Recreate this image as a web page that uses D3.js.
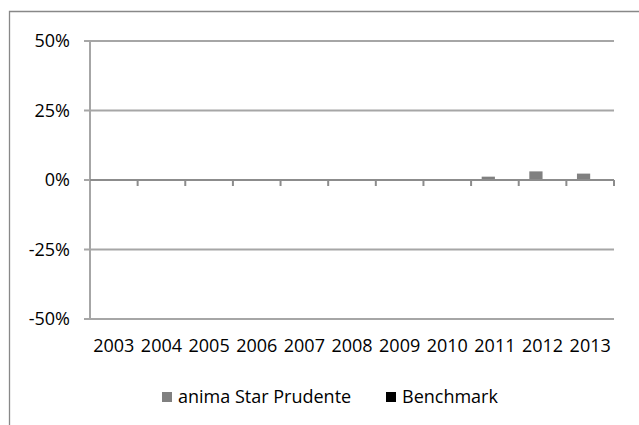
<!DOCTYPE html>
<html>
<head>
<meta charset="utf-8">
<script src="https://cdn.jsdelivr.net/npm/d3@7"></script>
<style>
  body { margin: 0; background: #fff; }
  text { font-family: "Open Sans", sans-serif; fill: #000; }
</style>
</head>
<body>
<div id="chart"></div>
<script>
// chart data
var years = ["2003","2004","2005","2006","2007","2008","2009","2010","2011","2012","2013"];
var fund = [null,null,null,null,null,null,null,null,1.2,3.1,2.3];
var bench = [null,null,null,null,null,null,null,null,null,null,null];
var seriesNames = ["anima Star Prudente","Benchmark"];
var seriesColors = ["#808080","#000000"];
var yTicks = [-50,-25,0,25,50];

var W = 639, H = 425;
var plotL = 90, plotR = 614, plotT = 41, plotB = 319;

var svg = d3.select("#chart").append("svg")
	.attr("width", W)
	.attr("height", H);

// outer frame (left + top visible)
svg.append("path")
	.attr("d", "M9.5," + (H + 2) + "V11.5H" + (W + 2))
	.attr("fill", "none")
	.attr("stroke", "#888")
	.attr("stroke-width", 1.3);

var x = d3.scaleBand().domain(years).range([plotL, plotR]);
var y = d3.scaleLinear().domain([-50, 50]).range([plotB, plotT]);

// gridlines
svg.append("g").selectAll("line")
	.data(yTicks)
	.enter().append("line")
	.attr("x1", plotL - 6).attr("x2", plotR)
	.attr("y1", function(d){ return y(d); })
	.attr("y2", function(d){ return y(d); })
	.attr("stroke", "#a6a6a6")
	.attr("stroke-width", 2);

// y axis line
svg.append("line")
	.attr("x1", plotL).attr("x2", plotL)
	.attr("y1", plotT).attr("y2", plotB)
	.attr("stroke", "#a6a6a6")
	.attr("stroke-width", 2);

// y labels
svg.append("g").selectAll("text")
	.data(yTicks)
	.enter().append("text")
	.attr("x", plotL - 20)
	.attr("y", function(d){ return y(d); })
	.attr("dy", "0.35em")
	.attr("text-anchor", "end")
	.style("font-size", "18px")
	.text(function(d){ return d + "%"; });

// bars
var inner = d3.scaleBand().domain([0, 1]).range([0, x.bandwidth()]).paddingInner(0).paddingOuter(0.8);
[fund, bench].forEach(function(vals, s){
	svg.append("g").selectAll("rect")
		.data(years.map(function(yr, i){ return {yr: yr, v: vals[i]}; }).filter(function(d){ return d.v != null; }))
		.enter().append("rect")
		.attr("x", function(d){ return x(d.yr) + inner(s); })
		.attr("width", inner.bandwidth())
		.attr("y", function(d){ return Math.min(y(d.v), y(0)); })
		.attr("height", function(d){ return Math.abs(y(d.v) - y(0)); })
		.attr("fill", seriesColors[s]);
});

// zero axis + category ticks
svg.append("line")
	.attr("x1", plotL).attr("x2", plotR)
	.attr("y1", y(0)).attr("y2", y(0))
	.attr("stroke", "#8c8c8c")
	.attr("stroke-width", 2);

svg.append("g").selectAll("line")
	.data(years)
	.enter().append("line")
	.attr("x1", function(d){ return x(d) + x.bandwidth(); })
	.attr("x2", function(d){ return x(d) + x.bandwidth(); })
	.attr("y1", y(0)).attr("y2", y(0) + 6)
	.attr("stroke", "#8c8c8c")
	.attr("stroke-width", 2);

// x labels
svg.append("g").selectAll("text")
	.data(years)
	.enter().append("text")
	.attr("x", function(d){ return x(d) + x.bandwidth() / 2; })
	.attr("y", 346)
	.attr("dy", "0.35em")
	.attr("text-anchor", "middle")
	.style("font-size", "18px")
	.text(function(d){ return d; });

// legend
var legX = [162, 386];
seriesNames.forEach(function(n, i){
	svg.append("rect")
		.attr("x", legX[i]).attr("y", 392)
		.attr("width", 10).attr("height", 10)
		.attr("fill", seriesColors[i]);
	svg.append("text")
		.attr("x", legX[i] + 16)
		.attr("y", 397)
		.attr("dy", "0.35em")
		.style("font-size", "18px")
		.text(n);
});
</script>
</body>
</html>
